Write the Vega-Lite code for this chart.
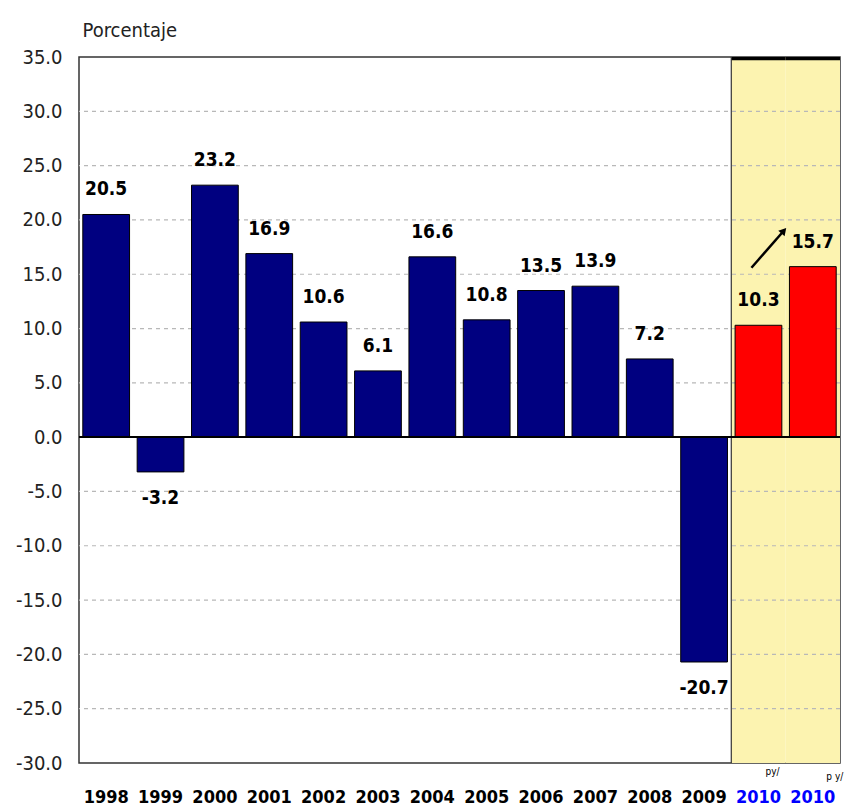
{
  "$schema": "https://vega.github.io/schema/vega-lite/v6.json",
  "width": 761,
  "height": 706,
  "autosize": {"type": "none"},
  "padding": {"left": 79, "top": 57, "right": 4, "bottom": 49},
  "background": "white",
  "config": {
    "view": {"stroke": "#333333", "strokeWidth": 1.5},
    "font": "DejaVu Sans Condensed, Liberation Sans, sans-serif"
  },
  "datasets": {
    "bars": [
      {"cat": "1998", "v": 20.5, "label": "20.5"},
      {"cat": "1999", "v": -3.2, "label": "-3.2"},
      {"cat": "2000", "v": 23.2, "label": "23.2"},
      {"cat": "2001", "v": 16.9, "label": "16.9"},
      {"cat": "2002", "v": 10.6, "label": "10.6"},
      {"cat": "2003", "v": 6.1, "label": "6.1"},
      {"cat": "2004", "v": 16.6, "label": "16.6"},
      {"cat": "2005", "v": 10.8, "label": "10.8"},
      {"cat": "2006", "v": 13.5, "label": "13.5"},
      {"cat": "2007", "v": 13.9, "label": "13.9"},
      {"cat": "2008", "v": 7.2, "label": "7.2"},
      {"cat": "2009", "v": -20.7, "label": "-20.7"},
      {"cat": "2010a", "v": 10.3, "label": "10.3"},
      {"cat": "2010b", "v": 15.7, "label": "15.7"}
    ],
    "hl": [{"cat": "2010a"}, {"cat": "2010b"}],
    "grid": [{"g": -25}, {"g": -20}, {"g": -15}, {"g": -10}, {"g": -5}, {"g": 5}, {"g": 10}, {"g": 15}, {"g": 20}, {"g": 25}, {"g": 30}],
    "arrow": [{"a": "2010a", "b": "2010b", "y1": 15.6, "y2": 19.0}]
  },
  "data": {"name": "bars"},
  "encoding": {
    "x": {
      "field": "cat",
      "type": "nominal",
      "sort": null,
      "scale": {"paddingInner": 0, "paddingOuter": 0, "domain": ["1998","1999","2000","2001","2002","2003","2004","2005","2006","2007","2008","2009","2010a","2010b"]},
      "axis": {
        "title": null,
        "labelAngle": 0,
        "domain": false,
        "ticks": false,
        "labelFont": "DejaVu Sans Condensed, Liberation Sans, sans-serif",
        "labelFontSize": 18,
        "labelFontWeight": "bold",
        "labelPadding": 25,
        "labelExpr": "slice(datum.value, 0, 4)",
        "labelColor": {"condition": {"test": "indexof(datum.value, '2010') >= 0", "value": "#0000FF"}, "value": "#000000"}
      }
    }
  },
  "layer": [
    {
      "data": {"name": "hl"},
      "mark": {"type": "rect", "color": "#FCF3B0"},
      "encoding": {
        "y": {"datum": 35, "type": "quantitative"},
        "y2": {"datum": -30}
      }
    },
    {
      "data": {"name": "hl"},
      "mark": {"type": "rect", "color": "#000000"},
      "encoding": {
        "y": {"datum": 35, "type": "quantitative"},
        "y2": {"datum": 34.7}
      }
    },
    {
      "data": {"name": "hl"},
      "transform": [{"filter": "datum.cat == '2010a'"}],
      "mark": {"type": "rule", "color": "#333333", "strokeWidth": 1.2},
      "encoding": {
        "x": {"field": "cat", "type": "nominal", "bandPosition": 0},
        "y": {"datum": 35, "type": "quantitative"},
        "y2": {"datum": -30}
      }
    },
    {
      "data": {"name": "grid"},
      "mark": {"type": "rule", "color": "#B8B8B8", "strokeDash": [4, 4], "strokeWidth": 1.2},
      "encoding": {
        "x": null,
        "y": {"field": "g", "type": "quantitative"}
      }
    },
    {
      "mark": {"type": "bar", "width": {"band": 0.86}, "stroke": "#000000", "strokeWidth": 1},
      "encoding": {
        "y": {
          "field": "v",
          "type": "quantitative",
          "scale": {"domain": [-30, 35], "nice": false, "zero": false},
          "axis": {
            "values": [-30, -25, -20, -15, -10, -5, 0, 5, 10, 15, 20, 25, 30, 35],
            "labelExpr": "replace(format(datum.value, '.1f'), '\u2212', '-')",
            "grid": false,
            "domain": false,
            "ticks": false,
            "labelFont": "DejaVu Sans Condensed, Liberation Sans, sans-serif",
            "labelFontSize": 20,
            "labelColor": "#222222",
            "labelPadding": 17,
            "title": "Porcentaje",
            "titleFont": "DejaVu Sans Condensed, Liberation Sans, sans-serif",
            "titleFontSize": 20,
            "titleFontWeight": "normal",
            "titleColor": "#222222",
            "titleAngle": 0,
            "titleAlign": "left",
            "titleBaseline": "bottom",
            "titleX": 3,
            "titleY": -17
          }
        },
        "fill": {
          "condition": {"test": "indexof(datum.cat, '2010') >= 0", "value": "#FF0000"},
          "value": "#000080"
        }
      }
    },
    {
      "mark": {"type": "rule", "color": "#000000", "strokeWidth": 1.5},
      "encoding": {
        "x": null,
        "y": {"datum": 0, "type": "quantitative"}
      }
    },
    {
      "transform": [{"filter": "datum.v >= 0"}],
      "mark": {"type": "text", "fontSize": 19, "fontWeight": "bold", "baseline": "bottom", "dy": -15, "color": "#000000"},
      "encoding": {
        "y": {"field": "v", "type": "quantitative"},
        "text": {"field": "label"}
      }
    },
    {
      "transform": [{"filter": "datum.v < 0"}],
      "mark": {"type": "text", "fontSize": 19, "fontWeight": "bold", "baseline": "top", "dy": 17, "color": "#000000"},
      "encoding": {
        "y": {"field": "v", "type": "quantitative"},
        "text": {"field": "label"}
      }
    },
    {
      "data": {"name": "arrow"},
      "mark": {"type": "rule", "color": "#000000", "strokeWidth": 2.5, "xOffset": -7, "x2Offset": -29},
      "encoding": {
        "x": {"field": "a", "type": "nominal"},
        "x2": {"field": "b"},
        "y": {"field": "y1", "type": "quantitative"},
        "y2": {"field": "y2"}
      }
    },
    {
      "data": {"name": "arrow"},
      "mark": {"type": "point", "shape": "triangle-up", "filled": true, "color": "#000000", "size": 70, "angle": 41, "xOffset": -29, "opacity": 1},
      "encoding": {
        "x": {"field": "b", "type": "nominal"},
        "y": {"field": "y2", "type": "quantitative"}
      }
    },
    {
      "data": {"values": [{"cat": "2010a", "t": "py/"}]},
      "mark": {"type": "text", "fontSize": 10, "color": "#000000", "xOffset": 14, "dy": 9},
      "encoding": {
        "y": {"datum": -30, "type": "quantitative"},
        "text": {"field": "t"}
      }
    },
    {
      "data": {"values": [{"cat": "2010b", "t": "p y/"}]},
      "mark": {"type": "text", "fontSize": 10, "color": "#000000", "xOffset": 22, "dy": 14},
      "encoding": {
        "y": {"datum": -30, "type": "quantitative"},
        "text": {"field": "t"}
      }
    }
  ]
}
